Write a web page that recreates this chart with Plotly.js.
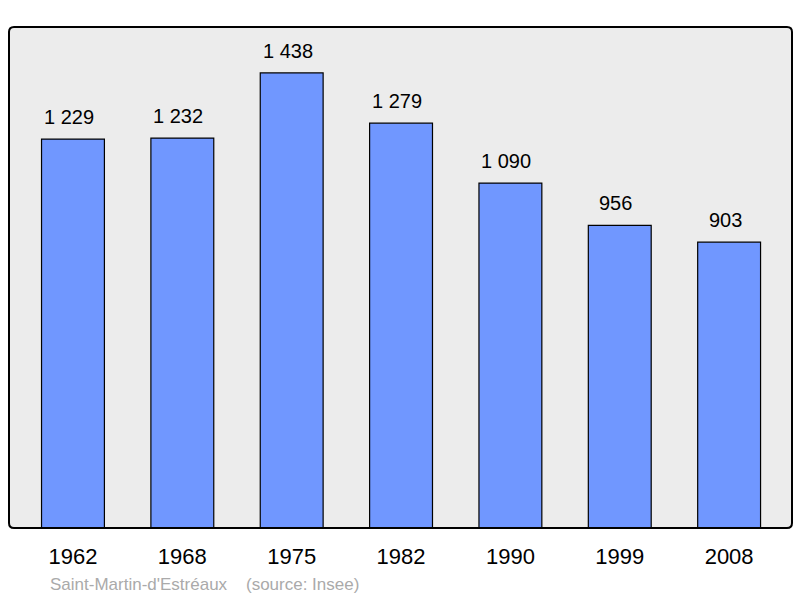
<!DOCTYPE html>
<html><head><meta charset="utf-8">
<script src="https://cdn.plot.ly/plotly-3.0.1.min.js"></script>
<style>html,body{margin:0;padding:0;background:#fff;}</style>
</head><body>
<div id="chart" style="width:800px;height:598px;"></div>
<script>
const years = ["1962","1968","1975","1982","1990","1999","2008"];
const population = [1229,1232,1438,1279,1090,956,903];
const footerText = "Saint-Martin-d'Estréaux\u00a0\u00a0\u00a0\u00a0(source: Insee)";

function fmt(v){ return String(v).replace(/\B(?=(\d{3})+(?!\d))/g, "\u00a0"); }

const annotations = years.map((y,i)=>({
  x: i, y: population[i], xref:'x', yref:'y', text: fmt(population[i]),
  showarrow:false, xanchor:'center', yanchor:'bottom', yshift:9, xshift:-4,
  font:{family:'Liberation Sans, Arial, sans-serif', size:20, color:'#000'}
}));
annotations.push({
  xref:'paper', yref:'paper', x:0.05, y:-0.112, xanchor:'left', yanchor:'middle',
  text: footerText, showarrow:false,
  font:{family:'Liberation Sans, Arial, sans-serif', size:17, color:'#aaaaaa'}
});

const data = [{
  type:'bar', x: years, y: population, width:0.575,
  marker:{color:'#7097ff', line:{color:'#000', width:1.2}},
  hoverinfo:'none'
}];

const rx = 5/783, ry = 5/501;
const framePath = `M ${rx},0 L ${1-rx},0 Q 1,0 1,${ry} L 1,${1-ry} Q 1,1 ${1-rx},1 L ${rx},1 Q 0,1 0,${1-ry} L 0,${ry} Q 0,0 ${rx},0 Z`;

const layout = {
  width:800, height:598,
  margin:{l:9, r:8, t:27, b:70},
  paper_bgcolor:'#ffffff', plot_bgcolor:'#ffffff',
  showlegend:false,
  xaxis:{type:'category', range:[-0.585,6.575], showgrid:false, zeroline:false,
    ticks:'', ticklabelstandoff:13, showline:false,
    tickfont:{family:'Liberation Sans, Arial, sans-serif', size:22, color:'#000'}},
  yaxis:{range:[0,1583], showgrid:false, zeroline:false, showticklabels:false, ticks:'', showline:false},
  annotations: annotations,
  shapes:[
    {type:'path', xref:'paper', yref:'paper', path: framePath,
     fillcolor:'#ececec', line:{width:0}, layer:'below'},
    {type:'path', xref:'paper', yref:'paper', path: framePath,
     line:{color:'#000', width:2}, layer:'above'}
  ]
};

Plotly.newPlot('chart', data, layout, {staticPlot:true, displayModeBar:false});
</script>
</body></html>
